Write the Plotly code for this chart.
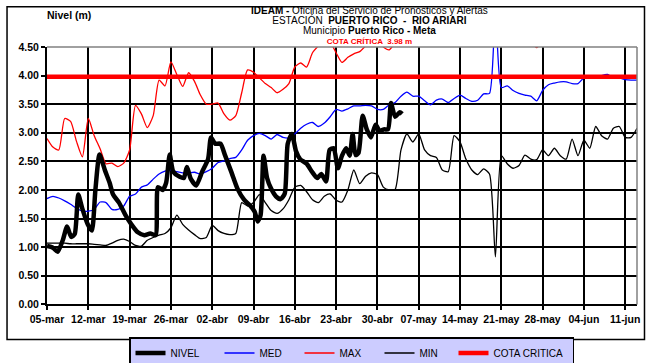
import pandas as pd
import plotly.graph_objects as go

# Day 0 = 05-mar; daily series run to 13-jun
start = pd.Timestamp("2024-03-05")

med = [1.85, 1.89, 1.86, 1.81, 1.75, 1.68, 1.63, 1.63, 1.66, 1.79,
       1.78, 1.66, 1.66, 1.72, 1.89, 1.93, 2.05, 2.09, 2.19, 2.28,
       2.33, 2.35, 2.32, 2.30, 2.30, 2.31, 2.28, 2.32, 2.38, 2.48,
       2.51, 2.55, 2.57, 2.70, 2.87, 2.95, 2.99, 2.95, 2.89, 2.97,
       2.92, 2.91, 2.98, 3.08, 3.15, 3.18, 3.11, 3.17, 3.28, 3.41,
       3.38, 3.42, 3.47, 3.47, 3.48, 3.47, 3.41, 3.41, 3.49, 3.53,
       3.64, 3.71, 3.64, 3.64, 3.56, 3.49, 3.57, 3.59, 3.53, 3.60,
       3.66, 3.60, 3.55, 3.57, 3.68, 3.69, 5.20, 3.79, 3.82, 3.74,
       3.69, 3.66, 3.64, 3.56, 3.74, 3.84, 3.87, 3.89, 3.89, 3.86,
       3.86, 3.96, 3.97, 3.96, 4.00, 4.02, 3.96, 3.96, 3.93, 3.92, 3.92]

maxi = [2.90, 2.75, 2.70, 3.25, 3.20, 2.85, 2.58, 3.25, 2.95, 2.72,
        2.46, 2.47, 2.41, 2.47, 2.70, 3.48, 3.33, 3.09, 3.30, 3.92,
        3.82, 4.24, 4.02, 3.81, 4.05, 3.90, 3.66, 3.50, 3.50, 3.52,
        3.33, 3.22, 3.30, 3.70, 4.10, 4.06, 3.96, 3.86, 3.79, 3.70,
        3.76, 3.86, 4.15, 4.22, 4.15, 4.40, 4.52, 4.62, 4.58, 4.40,
        4.23, 4.32, 4.38, 4.42, 4.52, 4.65, 4.62, 4.50, 4.45, 4.58,
        4.75, 4.85, 4.90, 4.88, 4.80, 4.85, 4.90, 4.95, 4.90, 4.85,
        4.90, 4.95, 4.90, 4.85, 4.80, 4.85, 5.20, 4.90, 4.80, 4.75,
        4.70, 4.65, 4.58, 4.49, 4.60, 4.70, 4.75, 4.80, 4.85, 4.80,
        4.75, 4.80, 4.85, 4.80, 4.75, 4.80, 4.85, 4.80, 4.75, 4.80, 4.75]

mini = [1.07, 1.07, 1.07, 1.07, 1.06, 1.06, 1.06, 1.06, 1.05, 1.04,
        1.03, 1.07, 1.12, 1.14, 1.10, 1.03, 1.02, 1.12, 1.17, 1.21,
        1.24, 1.34, 1.56, 1.40, 1.30, 1.22, 1.15, 1.17, 1.38, 1.29,
        1.24, 1.22, 1.24, 1.78, 1.72, 1.78, 1.92, 1.78, 1.64, 1.59,
        1.67, 1.83, 2.05, 2.08, 1.97, 1.83, 1.78, 1.89, 1.93, 1.82,
        1.79, 2.00, 2.35, 2.11, 2.24, 2.30, 2.27, 2.05, 2.00, 2.01,
        2.70, 2.98, 2.84, 2.98, 2.70, 2.60, 2.57, 2.35, 2.32, 2.95,
        2.84, 2.54, 2.35, 2.27, 2.37, 2.28, 0.83, 2.60, 2.46, 2.38,
        2.43, 2.61, 2.54, 2.53, 2.70, 2.60, 2.73, 2.60, 2.54, 2.89,
        2.60, 2.87, 2.73, 3.11, 2.95, 2.89, 3.08, 3.11, 2.92, 2.92, 3.08]

# NIVEL is sub-daily: day offsets from 05-mar and the level read at each
nivel_day = [0.0, 1.0, 1.8, 2.7, 3.4, 4.1, 4.7, 5.3, 6.0, 6.9,
             7.6, 8.2, 8.9, 9.8, 10.6, 11.2, 12.2, 13.3, 14.3, 15.4,
             16.5, 17.5, 18.4, 18.8, 19.6, 20.2, 20.8, 21.4, 22.5, 23.2,
             23.7, 24.4, 25.3, 26.3, 27.3, 27.8, 28.5, 29.4, 30.2, 31.3,
             32.3, 33.4, 34.5, 35.2, 35.7, 36.2, 36.7, 37.3, 38.0, 38.8,
             39.6, 40.3, 40.8, 41.5, 42.2, 42.9, 44.0, 44.9, 45.8, 46.5,
             47.3, 47.9, 48.6, 49.3, 50.0, 50.7, 51.3, 51.8, 52.3, 52.8,
             53.5, 54.2, 54.9, 55.7, 56.4, 57.1, 57.8, 58.3, 59.0, 59.8, 60.2]
nivel = [1.02, 0.99, 0.92, 1.13, 1.36, 1.18, 1.23, 1.92, 1.67, 1.40,
         1.29, 2.00, 2.62, 2.35, 2.13, 1.92, 1.78, 1.56, 1.40, 1.26,
         1.21, 1.24, 1.21, 2.05, 2.00, 2.13, 2.62, 2.32, 2.23, 2.21,
         2.40, 2.19, 2.08, 2.32, 2.54, 2.92, 2.81, 2.81, 2.60, 2.30,
         2.02, 1.83, 1.72, 1.62, 1.45, 1.56, 2.60, 2.21, 2.02, 1.89,
         1.84, 1.94, 2.81, 2.98, 2.68, 2.54, 2.46, 2.32, 2.21, 2.28,
         2.15, 2.70, 2.73, 2.38, 2.60, 2.73, 2.60, 2.98, 2.61, 2.65,
         3.30, 3.06, 2.92, 3.14, 3.03, 3.06, 3.06, 3.52, 3.28, 3.36, 3.33]

cota_critica = 3.98

meses = {3: "mar", 4: "abr", 5: "may", 6: "jun"}

dates = pd.date_range(start, periods=len(med), freq="D")
nivel_dates = start + pd.to_timedelta(nivel_day, unit="D")
tick_dates = pd.date_range(start, "2024-06-11", freq="7D")
tick_text = [f"{d.day:02d}-{meses[d.month]}" for d in tick_dates]

FONT = "Liberation Sans, Arial, sans-serif"
W, H = 653, 363

# plot area in pixels (used to place the title block and frame)
L, R, T, B = 47, 15.5, 47, 41
PW, PH = W - L - R, H - T - B


def px_x(x):
    return (x - L) / PW


def px_y(y):
    return (H - B - y) / PH


fig = go.Figure()

fig.add_trace(go.Scatter(x=dates, y=mini, name="MIN", mode="lines",
                         line=dict(color="black", width=1.3, shape="spline", smoothing=0.6),
                         legendrank=4, legendwidth=29))
fig.add_trace(go.Scatter(x=dates, y=maxi, name="MAX", mode="lines",
                         line=dict(color="#ff0000", width=1.3, shape="spline", smoothing=0.6),
                         legendrank=3, legendwidth=35))
fig.add_trace(go.Scatter(x=dates, y=med, name="MED", mode="lines",
                         line=dict(color="#0000ff", width=1.3, shape="spline", smoothing=0.6),
                         legendrank=2, legendwidth=35))
fig.add_trace(go.Scatter(x=nivel_dates, y=nivel, name="NIVEL", mode="lines",
                         line=dict(color="black", width=4.5, shape="spline", smoothing=0.6),
                         legendrank=1, legendwidth=44))
fig.add_trace(go.Scatter(x=[dates[0], dates[-1]], y=[cota_critica, cota_critica],
                         name="COTA CRITICA", mode="lines",
                         line=dict(color="#ff0000", width=4.5),
                         legendrank=5, legendwidth=74))

# title block as one multi-line text (line pitch ~10 px)
title_text = (
    '<span style="font-size:10px"><b>IDEAM -</b> Oficina del Servicio de Pronósticos y Alertas</span><br>'
    '<span style="font-size:10px">ESTACIÓN  <b>PUERTO RICO  -  RIO ARIARI</b></span><br>'
    '<span style="font-size:10px">Municipio <b>Puerto Rico - Meta</b></span><br>'
    '<span style="font-size:8px;color:#ff0000"><b>COTA CRÍTICA  3.98 m</b></span>'
)
fig.add_annotation(text=title_text, xref="paper", yref="paper",
                   x=px_x(370), y=px_y(24.5),
                   xanchor="center", yanchor="middle", showarrow=False,
                   font=dict(family=FONT, size=7.8, color="black"))

fig.add_annotation(text="<b>Nivel (m)</b>", xref="paper", yref="paper",
                   x=px_x(45), y=px_y(13),
                   xanchor="left", yanchor="middle", showarrow=False,
                   font=dict(family=FONT, size=10.5, color="black"))

# gray frame on top/right of plot area, black frame round whole chart
fig.add_shape(type="line", xref="paper", yref="paper", x0=0, x1=1, y0=1, y1=1,
              line=dict(color="#808080", width=1.5), layer="above")
fig.add_shape(type="line", xref="paper", yref="paper", x0=1, x1=1, y0=0, y1=1,
              line=dict(color="#808080", width=1.5), layer="above")
fig.add_shape(type="rect", xref="paper", yref="paper",
              x0=px_x(7), x1=px_x(645), y0=px_y(359.5), y1=px_y(4),
              line=dict(color="black", width=1.5))

fig.update_layout(
    width=W, height=H,
    margin=dict(l=L, r=R, t=T, b=B),
    paper_bgcolor="white", plot_bgcolor="white",
    font=dict(family=FONT, color="black"),
    showlegend=True,
    legend=dict(orientation="h", xref="container", yref="container",
                x=129 / W, xanchor="left", y=(H - 337) / H, yanchor="top",
                bgcolor="#ccccff", bordercolor="black", borderwidth=1.5,
                font=dict(family=FONT, size=10), itemwidth=30,
                entrywidthmode="pixels", traceorder="normal"),
    xaxis=dict(range=[start, pd.Timestamp("2024-06-13")],
               tickvals=tick_dates, ticktext=tick_text,
               showgrid=True, gridcolor="black", gridwidth=1.5,
               showline=True, linecolor="black", linewidth=2,
               ticks="outside", ticklen=4, tickcolor="black", tickwidth=1.5,
               tickfont=dict(family=FONT, size=10.5, weight="bold"),
               zeroline=False),
    yaxis=dict(range=[0, 4.5], dtick=0.5, tickformat=".2f",
               showgrid=True, gridcolor="black", gridwidth=1.5,
               showline=True, linecolor="black", linewidth=2,
               ticks="outside", ticklen=4, tickcolor="black", tickwidth=1.5,
               tickfont=dict(family=FONT, size=10.5, weight="bold"),
               zeroline=False),
)

# the page's default body margin would shift the chart by 8 px
fig.write_html("out.html", config={"displayModeBar": False},
               post_script="document.body.style.margin = '0';")
